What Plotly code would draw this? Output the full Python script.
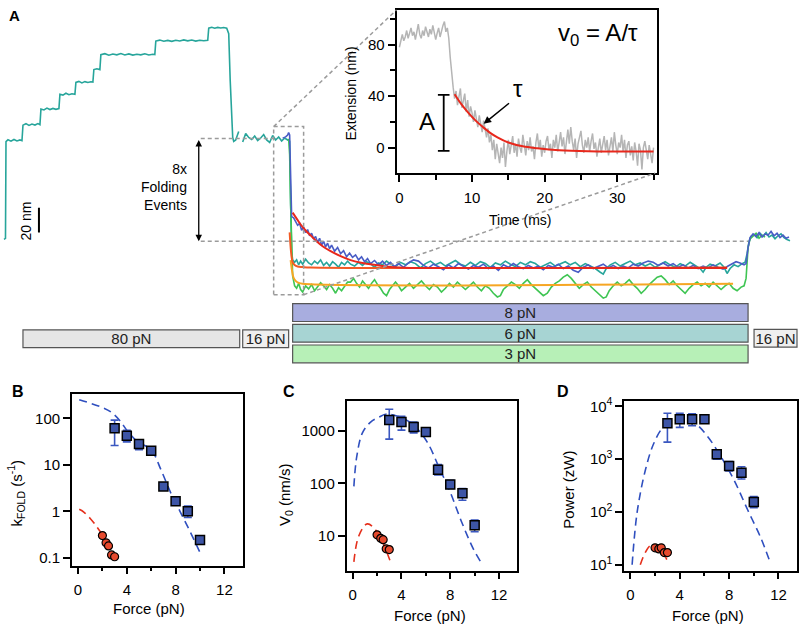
import plotly.graph_objects as go

# ================= DATA =================
# ---- Panel A: extension (nm) vs time (a.u.) ----
# teal: 80 pN unfolding staircase -> 16 pN -> 6 pN -> 16 pN
teal_trace = [
    (3, 1.6), (4.5, 2.4), (5, 80.6), (7, 82.2), (10, 81.0), (13, 82.4), (16, 81.2), (19, 82.0), (21, 81.4),
    (22, 94.0), (25, 95.2), (28, 93.8), (31, 94.9), (34, 94.1), (37, 95.3), (39, 94.4),
    (40, 107.0), (43, 106.3), (46, 107.8), (49, 106.6), (52, 107.5), (55, 106.8), (58, 107.4),
    (59, 119.0), (62, 118.3), (65, 119.8), (68, 118.6), (71, 119.4), (74, 118.9),
    (75, 128.6), (78, 129.4), (81, 128.2), (84, 129.2), (87, 128.5), (90, 129.1), (92, 128.8),
    (93, 139.0), (96, 139.6), (99, 138.9),
    (100, 151.0), (104, 151.8), (108, 150.6), (112, 151.5), (116, 150.9), (120, 151.9), (124, 150.8),
    (128, 151.6), (132, 150.7), (136, 151.4), (140, 150.9), (144, 151.7), (148, 150.8), (152, 151.3), (154, 151.1),
    (155, 162.0), (159, 162.8), (163, 161.9), (167, 162.6), (171, 161.8), (175, 162.7), (179, 162.1),
    (183, 163.0), (187, 162.2), (191, 162.9), (195, 162.0), (199, 162.7), (203, 162.3), (207, 162.6),
    (208, 172.5), (211, 173.2), (214, 172.4), (217, 173.1), (220, 172.6), (223, 173.0), (226, 172.5),
    (228, 168.0), (229.5, 130.0), (231, 96.0), (232, 84.0), (233, 80.8), (235, 82.0), (238, 88.8),
    (None, None),
    (242, 80.4), (245, 87.2), (248, 84.0), (251, 82.4), (254, 85.2), (257, 81.6), (260, 83.6), (263, 86.4),
    (266, 82.0), (269, 80.0), (272, 85.6), (275, 82.0), (278, 84.4), (281, 81.2), (284, 83.6), (287, 82.4), (289, 81.0),
    (290, 30.0), (291, -8.0), (292, -15.0),
    (294, -17), (296, -15), (298, -19), (300, -16), (302, -18.5), (305, -14.5), (308, -17.5), (311, -19),
    (314, -16), (317, -18), (320, -15), (323, -19.5), (326, -17), (329, -20), (332, -16.5), (335, -18.5),
    (338, -21), (341, -17), (344, -19), (347, -16), (350, -18.5), (354, -20), (358, -17), (362, -19.5),
    (366, -16.5), (370, -18), (374, -21), (378, -17.5), (382, -19), (386, -16), (390, -18.5), (395, -20.5),
    (400, -17), (405, -19), (410, -16.5), (415, -18), (420, -21.5), (425, -18), (430, -16), (435, -19),
    (440, -17), (445, -20), (450, -17.5), (455, -15.5), (460, -18.5), (465, -20), (470, -17), (475, -19.5),
    (480, -16.5), (485, -18), (490, -21), (495, -17.5), (500, -19), (505, -16), (510, -18.5), (515, -20.5),
    (520, -17), (525, -19), (530, -16.5), (535, -18), (540, -21), (545, -19), (550, -17), (555, -20),
    (560, -18), (565, -16.5), (570, -19), (575, -17), (580, -20.5), (585, -18), (590, -20), (595, -22),
    (600, -25), (603, -26.5), (606, -22), (610, -19), (615, -17), (620, -20), (625, -18), (630, -16),
    (635, -19), (640, -17.5), (645, -20), (650, -18), (655, -21), (660, -18.5), (665, -16.5), (670, -19),
    (675, -21), (680, -18), (685, -20), (690, -17), (695, -19.5), (700, -22), (703, -25), (706, -21),
    (710, -18.5), (715, -20), (720, -17.5), (724, -21), (727, -26), (730, -22), (734, -19), (738, -20.5),
    (742, -18), (745, -17), (747, -10), (749, 0), (751, 4), (754, 5.5), (757, 3), (760, 6.5), (763, 4),
    (766, 7), (769, 3.5), (772, 5), (775, 2), (778, 4.5), (781, 6), (784, 3), (787, 1.5), (790, 0.5),
]

# blue: 8 pN refolding
blue_trace = [
    (282, 83.5), (285, 84.5), (287, 86), (288, 88), (289, 86), (290, 50), (291, 20), (293, 19), (295, 16),
    (297, 13), (299, 14.5), (301, 9), (303, 11.5), (305, 7), (307, 9.5), (309, 4.5), (311, 6.5), (313, 2),
    (315, 4), (317, -1), (319, 2.5), (321, -3), (323, 0), (325, -4.5), (327, -1.5), (329, -6), (331, -3),
    (334, -8), (337, -5), (340, -10), (343, -7.5), (346, -12.5), (349, -9.5), (352, -13), (355, -11),
    (358, -15), (361, -12.5), (364, -16.5), (367, -14), (370, -18), (374, -15.5), (378, -19), (382, -16),
    (386, -19.5), (390, -17), (394, -20.5), (398, -18), (403, -21), (408, -17.5), (413, -15), (418, -16),
    (423, -19.5), (428, -21.5), (433, -18.5), (438, -20.5), (443, -23), (448, -19), (453, -21.5), (458, -18),
    (463, -20.5), (468, -22.5), (473, -19.5), (478, -21), (483, -18.5), (488, -22), (493, -20), (498, -23.5),
    (503, -19), (508, -21), (513, -18), (518, -20.5), (523, -22), (528, -19.5), (533, -21.5), (538, -20),
    (543, -23), (548, -19.5), (553, -21), (558, -18.5), (563, -22), (568, -20), (573, -23.5), (578, -25),
    (583, -21), (588, -19), (593, -22), (598, -20), (603, -18.5), (608, -21.5), (613, -19.5), (618, -22),
    (623, -20), (628, -21.5), (633, -18.5), (638, -20), (643, -17.5), (648, -16), (653, -17), (658, -19.5),
    (663, -17.5), (668, -20), (673, -18), (678, -21), (683, -19), (688, -21.5), (693, -19.5), (698, -22),
    (703, -20), (708, -21.5), (713, -19), (718, -21), (723, -22.5), (728, -20), (732, -18), (736, -16.5),
    (740, -17.5), (744, -19), (746, -18), (748, -5), (750, 3), (753, 6), (756, 4), (759, 7), (762, 3.5),
    (765, 6), (768, 5), (771, 8), (774, 4.5), (777, 6.5), (780, 3), (783, 5), (786, 2.5), (789, 3.5),
]

# green: 3 pN refolding
green_trace = [
    (288, 83), (289, 70), (290, 30), (291, -10), (292, -28), (294, -36), (296, -38), (298, -34), (300, -39),
    (302, -41), (305, -36), (308, -38.5), (311, -35), (314, -40), (317, -37), (320, -33.5), (323, -36),
    (326, -39), (329, -35), (332, -38), (335, -42), (338, -37.5), (341, -40), (344, -36), (347, -33),
    (350, -33), (353, -30), (356, -34), (359, -37), (362, -32), (365, -35), (368, -38), (371, -34), (374, -31),
    (377, -35), (380, -38), (383, -42), (386, -44), (389, -39), (392, -36), (395, -33), (398, -36), (401, -40),
    (405, -37), (409, -34), (413, -38), (417, -35), (421, -32), (425, -36), (429, -39), (433, -35), (437, -37),
    (441, -41), (445, -38), (449, -34), (453, -37), (457, -33), (461, -36), (465, -39), (469, -36), (473, -33),
    (477, -37), (481, -40), (485, -36), (489, -38), (493, -42), (497, -45), (500, -44), (503, -39), (507, -36),
    (511, -33), (515, -35), (519, -38), (523, -34), (527, -31), (531, -35), (535, -38), (539, -41), (543, -44),
    (547, -42), (551, -37), (555, -34), (559, -32), (563, -29), (567, -27), (571, -30), (575, -34), (579, -38),
    (583, -35), (587, -33), (591, -37), (595, -40), (599, -43), (603, -46), (606, -45), (609, -40), (613, -36),
    (617, -33), (621, -36), (625, -34), (629, -31), (633, -35), (637, -38), (641, -42), (645, -39), (649, -35),
    (653, -32), (657, -29), (661, -28), (665, -31), (669, -35), (673, -32), (677, -36), (681, -39), (685, -42),
    (689, -38), (693, -35), (697, -33), (701, -36), (705, -34), (709, -37), (713, -33), (717, -36), (721, -39),
    (725, -36), (729, -34), (733, -38), (737, -40), (741, -37), (744, -36), (746, -30), (748, -5), (750, 2),
    (753, 4), (756, 6.5), (759, 2.5), (762, 5), (765, 3.5),
]

# exponential fits
fit8_t = [292, 296, 300, 305, 310, 316, 322, 330, 340, 350, 362, 375, 390, 410, 440, 727]
fit8_ext = [23.2, 18.4, 13.6, 8.8, 4.8, 0, -4, -8, -12, -15.2, -17.6, -19.2, -20.8, -21.6, -21.6, -21.6]
fit6_t = [289, 290, 291, 292, 294, 297, 302, 310, 727]
fit6_ext = [7.2, -4.8, -12.8, -16.8, -19.2, -20.4, -20.8, -21.2, -21.2]
fit3_t = [290, 291, 292, 293, 295, 298, 302, 733]
fit3_ext = [-15.2, -21.6, -26.4, -29.6, -32, -33.6, -34.4, -34.4]

# force protocol
protocol_labels = ["80 pN", "16 pN", "8 pN", "6 pN", "3 pN", "16 pN"]
protocol_start = [22, 242, 292, 292, 292, 754]
protocol_end = [239, 288, 748, 748, 748, 797]
protocol_row = [1.27, 1.27, 0, 1, 2, 1.24]
protocol_colors = ["#e6e6e6", "#efefef", "#a8addf", "#a7d4d3", "#b7f0b7", "#efefef"]

# ---- Inset: extension (nm) vs time (ms) ----
inset_t = [
    0.0, 0.2, 0.4, 0.6, 0.8, 1.0, 1.2, 1.4, 1.6, 1.8,
    2.0, 2.2, 2.4, 2.6, 2.8, 3.0, 3.2, 3.4, 3.6, 3.8,
    4.0, 4.2, 4.4, 4.6, 4.8, 5.0, 5.2, 5.4, 5.6, 5.8,
    6.0, 6.2, 6.4, 6.6, 6.8, 7.0, 7.2, 7.4, 7.6, 7.8,
    8.0, 8.2, 8.4, 8.6, 8.8, 9.0, 9.2, 9.4, 9.6, 9.8,
    10.0, 10.2, 10.4, 10.6, 10.8, 11.0, 11.2, 11.4, 11.6, 11.8,
    12.0, 12.2, 12.4, 12.6, 12.8, 13.0, 13.2, 13.4, 13.6, 13.8,
    14.0, 14.2, 14.4, 14.6, 14.8, 15.0, 15.2, 15.4, 15.6, 15.8,
    16.0, 16.2, 16.4, 16.6, 16.8, 17.0, 17.2, 17.4, 17.6, 17.8,
    18.0, 18.2, 18.4, 18.6, 18.8, 19.0, 19.2, 19.4, 19.6, 19.8,
    20.0, 20.2, 20.4, 20.6, 20.8, 21.0, 21.2, 21.4, 21.6, 21.8,
    22.0, 22.2, 22.4, 22.6, 22.8, 23.0, 23.2, 23.4, 23.6, 23.8,
    24.0, 24.2, 24.4, 24.6, 24.8, 25.0, 25.2, 25.4, 25.6, 25.8,
    26.0, 26.2, 26.4, 26.6, 26.8, 27.0, 27.2, 27.4, 27.6, 27.8,
    28.0, 28.2, 28.4, 28.6, 28.8, 29.0, 29.2, 29.4, 29.6, 29.8,
    30.0, 30.2, 30.4, 30.6, 30.8, 31.0, 31.2, 31.4, 31.6, 31.8,
    32.0, 32.2, 32.4, 32.6, 32.8, 33.0, 33.2, 33.4, 33.6, 33.8,
    34.0, 34.2, 34.4, 34.6, 34.8, 35.0,
]
inset_ext = [
    78, 84, 88, 83, 86, 91, 85, 89, 93, 87,
    90, 84, 92, 96, 88, 85, 91, 87, 94, 89,
    86, 92, 88, 95, 90, 84, 89, 93, 86, 91,
    95, 98, 90, 93, 85, 70, 55, 47, 38, 44,
    33, 40, 46, 31, 36, 42, 28, 37, 24, 32,
    27, 20, 29, 23, 16, 25, 18, 12, 21, 14,
    8, 15, 4, 10, -2, 6, -9, 3, -6, -12,
    0, -8, 4, -15, -3, 6, -5, 1, 9, -4,
    3, -7, 7, 0, -4, 10, 2, -6, 5, -2,
    8, -3, 1, -9, 4, 11, -1, 6, -7, 2,
    -4, 5, 9, -2, 3, -8, 6, 0, 10, -3,
    4, 12, 1, 8, -5, 6, 14, 3, 16, 5,
    -2, 7, -8, 3, 9, 13, 2, -4, 6, 0,
    8, -3, 5, 11, -1, 4, -7, 2, 7, -4,
    3, 9, -2, 6, -6, 1, 8, -3, 12, 2,
    -5, 4, 0, 10, -3, 6, -8, 2, 5, -6,
    1, -10, 4, -3, -14, 3, -2, -17, 0, 5,
    -3, -9, 2, -5, -12, 0,
]
inset_fit_t = [7.6, 8.5, 9.5, 10.5, 11.5, 12.5, 13.5, 15, 17, 19, 22, 26, 30, 35]
inset_fit_ext = [41.5, 34, 27, 21, 16, 11.5, 8, 4, 1, -0.5, -2, -2.8, -3, -3]

# ---- Panels B-D ----
force_hi = [3, 4, 5, 6, 7, 8, 9, 10]
kfold_hi = [61, 42, 28, 20, 3.4, 1.65, 1.0, 0.24]
kfold_hi_up = [30, 13, 6, 1.5, 0.5, 0.3, 0.3, 0.04]
kfold_hi_dn = [35, 11, 7, 1.5, 0.4, 0.2, 0.26, 0.035]
v0_hi = [1620, 1480, 1190, 960, 183, 96, 65, 16]
v0_hi_up = [980, 420, 290, 0, 47, 19, 15, 4]
v0_hi_dn = [920, 440, 270, 0, 38, 16, 17, 4]
power_hi = [4800, 5700, 5700, 5700, 1240, 740, 550, 155]
power_hi_up = [2600, 1700, 1500, 0, 260, 160, 170, 40]
power_hi_dn = [2700, 1700, 1400, 0, 240, 140, 130, 35]

force_lo = [2.0, 2.3, 2.5, 2.75, 3.0]
kfold_lo = [0.30, 0.21, 0.18, 0.115, 0.105]
v0_lo = [10.5, 9.0, 8.5, 5.7, 5.5]
power_lo = [21, 20, 21, 17, 17]

# model curves (dashed)
kfold_model_hi_f = [0.1, 1.9, 2.7, 3.4, 4.1, 4.9, 6.0, 6.8, 7.6, 8.4, 9.2, 10.0]
kfold_model_hi = [250, 174, 136, 91, 51, 31, 21, 7.8, 2.5, 0.95, 0.36, 0.13]
kfold_model_lo_f = [0.1, 0.5, 1.0, 1.5, 1.9]
kfold_model_lo = [1.1, 0.95, 0.7, 0.48, 0.34]
v0_model_hi_f = [0.1, 0.33, 0.8, 1.47, 2.15, 2.8, 4.05, 5.0, 6.1, 7.05, 8.0, 8.95, 9.9, 10.5]
v0_model_hi = [88, 320, 920, 1480, 1830, 2100, 1780, 1290, 620, 210, 68, 18, 5.6, 3.2]
v0_model_lo_f = [0.1, 0.5, 1.2, 2.0, 2.7, 3.1]
v0_model_lo = [3.2, 10, 17, 12, 5.6, 3.2]
power_model_hi_f = [0.14, 0.55, 1.22, 1.9, 2.7, 3.8, 5.2, 6.3, 7.35, 8.4, 9.5, 10.6, 11.3]
power_model_hi = [10, 100, 630, 2000, 4100, 5500, 4800, 2600, 1100, 400, 110, 31, 11.5]
power_model_lo_f = [0.8, 1.2, 1.6, 2.0, 2.5, 2.8, 3.05]
power_model_lo = [10, 17, 23, 24, 21, 15, 11]

# ================= STYLE / LAYOUT =================
W, H = 800, 626
FONT = "Liberation Sans, Arial, sans-serif"
TEAL, BLUE, GREEN = "#27a59b", "#4a5dc6", "#3fc553"
RED, ORED, ORANGE = "#e8281c", "#f25a24", "#f6a623"
MBLUE, EBLUE, DBLUE = "#3d55a6", "#3a57c0", "#2f4fbf"
MRED, DRED = "#e64a2e", "#e5301c"


def pxx(x):
    return x / W


def pxy(y):
    return 1 - y / H


def unzip(pairs):
    return [p[0] for p in pairs], [p[1] for p in pairs]


fig = go.Figure()

# ---- Panel A traces ----
for pairs, col in [(teal_trace, TEAL), (green_trace, GREEN), (blue_trace, BLUE)]:
    t, e = unzip(pairs)
    fig.add_trace(go.Scatter(x=t, y=e, mode="lines", line=dict(color=col, width=1.6),
                             xaxis="x", yaxis="y", showlegend=False, hoverinfo="skip"))
for t, e, col in [(fit3_t, fit3_ext, ORANGE), (fit6_t, fit6_ext, ORED), (fit8_t, fit8_ext, RED)]:
    fig.add_trace(go.Scatter(x=t, y=e, mode="lines", line=dict(color=col, width=2, shape="spline"),
                             xaxis="x", yaxis="y", showlegend=False, hoverinfo="skip"))

# force protocol bars
fig.add_trace(go.Bar(
    y=protocol_row, x=[e - s for s, e in zip(protocol_start, protocol_end)], base=protocol_start,
    orientation="h", width=0.86, xaxis="x", yaxis="y3",
    marker=dict(color=protocol_colors, line=dict(color="#555555", width=1.2)),
    text=protocol_labels, textposition="inside", insidetextanchor="middle",
    textfont=dict(size=15, color="#222222", family=FONT), constraintext="none",
    showlegend=False, hoverinfo="skip"))

# ---- Inset ----
fig.add_trace(go.Scatter(x=inset_t, y=inset_ext, mode="lines", line=dict(color="#b5b5b5", width=1.5),
                         xaxis="x2", yaxis="y2", showlegend=False, hoverinfo="skip"))
fig.add_trace(go.Scatter(x=inset_fit_t, y=inset_fit_ext, mode="lines",
                         line=dict(color=RED, width=2, shape="spline"),
                         xaxis="x2", yaxis="y2", showlegend=False, hoverinfo="skip"))

# ---- Panels B, C, D ----
panels = [
    ("x4", "y4", kfold_hi, kfold_hi_up, kfold_hi_dn, kfold_lo,
     kfold_model_hi_f, kfold_model_hi, kfold_model_lo_f, kfold_model_lo),
    ("x5", "y5", v0_hi, v0_hi_up, v0_hi_dn, v0_lo,
     v0_model_hi_f, v0_model_hi, v0_model_lo_f, v0_model_lo),
    ("x6", "y6", power_hi, power_hi_up, power_hi_dn, power_lo,
     power_model_hi_f, power_model_hi, power_model_lo_f, power_model_lo),
]
for xa, ya, hi, up, dn, lo, mhf, mh, mlf, ml in panels:
    fig.add_trace(go.Scatter(x=mhf, y=mh, mode="lines", line=dict(color=DBLUE, width=1.6, dash="8px,5px",
                                                                   shape="spline"),
                             xaxis=xa, yaxis=ya, showlegend=False, hoverinfo="skip"))
    fig.add_trace(go.Scatter(x=mlf, y=ml, mode="lines", line=dict(color=DRED, width=1.6, dash="8px,5px",
                                                                   shape="spline"),
                             xaxis=xa, yaxis=ya, showlegend=False, hoverinfo="skip"))
    fig.add_trace(go.Scatter(x=force_hi, y=hi, mode="markers",
                             marker=dict(symbol="square", size=9, color=MBLUE, line=dict(color="black", width=1.5)),
                             error_y=dict(type="data", array=up, arrayminus=dn, color=EBLUE, thickness=1.6, width=4),
                             xaxis=xa, yaxis=ya, showlegend=False, hoverinfo="skip"))
    fig.add_trace(go.Scatter(x=force_lo, y=lo, mode="markers",
                             marker=dict(symbol="circle", size=8, color=MRED, line=dict(color="black", width=1.2)),
                             xaxis=xa, yaxis=ya, showlegend=False, hoverinfo="skip"))

# ---- axes ----
hidden = dict(visible=False, showgrid=False, zeroline=False, fixedrange=True)
frame = dict(showline=True, mirror=True, linecolor="black", linewidth=1.6, showgrid=False, zeroline=False,
             ticks="outside", tickcolor="black", tickwidth=1.5, ticklen=7,
             tickfont=dict(size=15, color="black", family=FONT))

layout = dict(
    width=W, height=H, autosize=False, margin=dict(l=0, r=0, t=0, b=0),
    paper_bgcolor="white", plot_bgcolor="rgba(0,0,0,0)",
    font=dict(family=FONT, size=14, color="black"),
    showlegend=False,
    xaxis=dict(domain=[0, 1], range=[0, 800], anchor="y", **hidden),
    yaxis=dict(domain=[pxy(300), 1], range=[-48.8, 191.2], anchor="x", **hidden),
    yaxis3=dict(domain=[pxy(366), pxy(300)], range=[2.63, -0.53], anchor="x", **hidden),
    xaxis2=dict(domain=[pxx(396), pxx(657)], range=[-0.4, 35.5], anchor="y2", tick0=0, dtick=10,
                minor=dict(dtick=5, ticks="outside", ticklen=5, tickwidth=1.5, tickcolor="black"),
                ticklabelstandoff=3, **frame),
    yaxis2=dict(domain=[pxy(170), pxy(5)], range=[-19.8, 107], anchor="x2", tick0=0, dtick=40,
                minor=dict(dtick=20, ticks="outside", ticklen=5, tickwidth=1.5, tickcolor="black"),
                **frame),
)

xr = [-0.5, 13.5]
xcommon = dict(range=xr, tick0=0, dtick=4, ticklabelstandoff=3,
               minor=dict(dtick=2, ticks="outside", ticklen=4, tickwidth=1.5, tickcolor="black"), **frame)
layout["xaxis4"] = dict(domain=[pxx(71), pxx(242)], anchor="y4", **xcommon)
layout["yaxis4"] = dict(domain=[pxy(567), pxy(393)], anchor="x4", type="log", range=[-1.17, 2.53],
                        tickvals=[0.1, 1, 10, 100], ticktext=["0.1", "1", "10", "100"], **frame)
layout["xaxis5"] = dict(domain=[pxx(346), pxx(517)], anchor="y5", **xcommon)
layout["yaxis5"] = dict(domain=[pxy(572), pxy(400)], anchor="x5", type="log", range=[0.34, 3.58],
                        tickvals=[10, 100, 1000], ticktext=["10", "100", "1000"], **frame)
layout["xaxis6"] = dict(domain=[pxx(624), pxx(797)], anchor="y6", **xcommon)
layout["yaxis6"] = dict(domain=[pxy(572), pxy(400)], anchor="x6", type="log", range=[0.89, 4.11],
                        tickvals=[10, 100, 1000, 10000],
                        ticktext=["10<sup>1</sup>", "10<sup>2</sup>", "10<sup>3</sup>", "10<sup>4</sup>"], **frame)
fig.update_layout(**layout)

# ---- shapes (panel A guides, inset bracket) ----
gray = dict(color="#9b9b9b", width=1.5, dash="4px,3px")
shapes = [
    dict(type="line", xref="x", yref="y", x0=200, x1=273, y0=83.2, y1=83.2, line=gray),
    dict(type="line", xref="x", yref="y", x0=200, x1=748, y0=0, y1=0, line=gray),
    dict(type="rect", xref="x", yref="y", x0=273, x1=303, y0=-43.2, y1=92.8, line=gray),
    dict(type="line", xref="x", yref="y", x0=273, x1=396, y0=92.8, y1=187.2, line=gray),
    dict(type="line", xref="x", yref="y", x0=303, x1=655, y0=-43.2, y1=55.2, line=gray),
    dict(type="line", xref="x", yref="y", x0=38, x1=38, y0=7.2, y1=27.2, line=dict(color="black", width=2)),
    # inset amplitude bracket
    dict(type="line", xref="x2", yref="y2", x0=6.1, x1=6.1, y0=-2.6, y1=41, line=dict(color="black", width=1.8)),
    dict(type="line", xref="x2", yref="y2", x0=5.3, x1=6.9, y0=41, y1=41, line=dict(color="black", width=1.8)),
    dict(type="line", xref="x2", yref="y2", x0=5.3, x1=6.9, y0=-2.6, y1=-2.6, line=dict(color="black", width=1.8)),
]
fig.update_layout(shapes=shapes)

# ---- annotations ----
ann = []


def text_px(txt, x, y, size=14, bold=False, angle=0, xanchor="center", align="center"):
    ann.append(dict(text=("<b>%s</b>" % txt) if bold else txt, x=pxx(x), y=pxy(y), xref="paper", yref="paper",
                    showarrow=False, font=dict(size=size, family=FONT, color="black"),
                    textangle=angle, xanchor=xanchor, yanchor="middle", align=align))


text_px("A", 14, 11, size=15, bold=True)
text_px("B", 17, 391, size=16, bold=True)
text_px("C", 288, 391, size=16, bold=True)
text_px("D", 563, 391, size=16, bold=True)
text_px("8x<br>Folding<br>Events", 188, 184, size=14, xanchor="right", align="right")
text_px("20 nm", 25, 218, size=14, angle=-90)
text_px("Extension (nm)", 350, 90, size=14, angle=-90)
text_px("Time (ms)", 520, 217, size=14)
text_px("k<sub>FOLD</sub> (s<sup>-1</sup>)", 15, 493, size=15, angle=-90)
text_px("V<sub>0</sub> (nm/s)", 285, 495, size=15, angle=-90)
text_px("Power (zW)", 568, 490, size=15, angle=-90)
text_px("Force (pN)", 148, 610, size=15)
text_px("Force (pN)", 430, 617, size=15)
text_px("Force (pN)", 708, 617, size=15)

# double arrow: 8x folding events
ann.append(dict(x=198, y=0, ax=198, ay=83.2, xref="x", yref="y", axref="x", ayref="y", text="",
                showarrow=True, arrowhead=2, arrowside="end+start", arrowsize=1, arrowwidth=1.3,
                arrowcolor="black"))
# inset labels
ann.append(dict(x=3.85, y=20, xref="x2", yref="y2", text="A", showarrow=False,
                font=dict(size=24, family=FONT, color="black")))
ann.append(dict(x=16.4, y=46, xref="x2", yref="y2", text="τ", showarrow=False,
                font=dict(size=24, family=FONT, color="black")))
ann.append(dict(x=27.4, y=88, xref="x2", yref="y2", text="v<sub>0</sub> = A/τ", showarrow=False,
                font=dict(size=24, family=FONT, color="black")))
ann.append(dict(x=11.6, y=18.5, ax=15.3, ay=35.4, xref="x2", yref="y2", axref="x2", ayref="y2", text="",
                showarrow=True, arrowhead=2, arrowsize=1, arrowwidth=1.5, arrowcolor="black"))
fig.update_layout(annotations=ann)

fig.write_html("out.html", config={"displayModeBar": False},
               post_script="document.body.style.margin='0px';document.body.style.overflow='hidden';")
